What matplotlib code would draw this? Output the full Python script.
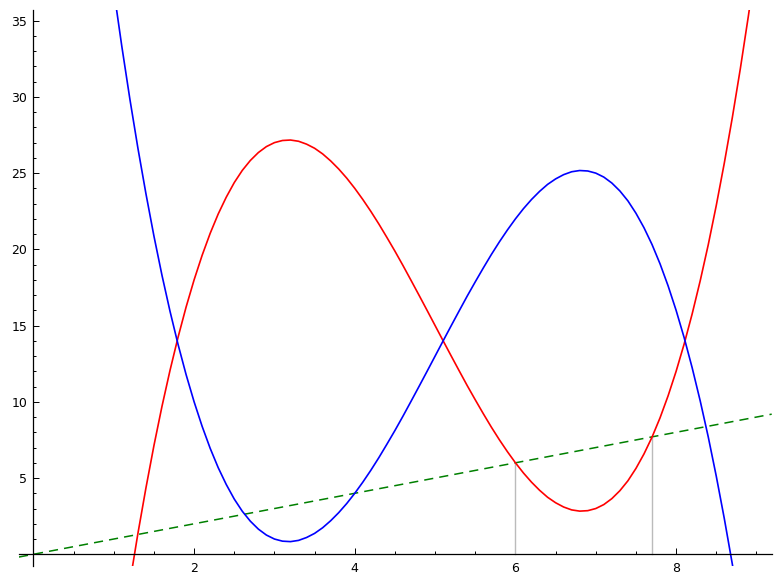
import matplotlib
matplotlib.use("Agg")
import matplotlib.pyplot as plt
from matplotlib.ticker import MultipleLocator

# sample points (x step 0.1)
x_vals = [1.0, 1.1, 1.2, 1.3, 1.4, 1.5, 1.6, 1.7, 1.8, 1.9,
          2.0, 2.1, 2.2, 2.3, 2.4, 2.5, 2.6, 2.7, 2.8, 2.9,
          3.0, 3.1, 3.2, 3.3, 3.4, 3.5, 3.6, 3.7, 3.8, 3.9,
          4.0, 4.1, 4.2, 4.3, 4.4, 4.5, 4.6, 4.7, 4.8, 4.9,
          5.0, 5.1, 5.2, 5.3, 5.4, 5.5, 5.6, 5.7, 5.8, 5.9,
          6.0, 6.1, 6.2, 6.3, 6.4, 6.5, 6.6, 6.7, 6.8, 6.9,
          7.0, 7.1, 7.2, 7.3, 7.4, 7.5, 7.6, 7.7, 7.8, 7.9,
          8.0, 8.1, 8.2, 8.3, 8.4, 8.5, 8.6, 8.7, 8.8, 8.9, 9.0]
red_vals = [-9.00, -5.32, -1.87, 1.35, 4.34, 7.13, 9.70, 12.06, 14.23, 16.21,
            18.00, 19.61, 21.05, 22.32, 23.42, 24.38, 25.18, 25.83, 26.35, 26.74,
            27.00, 27.14, 27.17, 27.09, 26.90, 26.63, 26.26, 25.80, 25.27, 24.67,
            24.00, 23.27, 22.49, 21.66, 20.78, 19.88, 18.94, 17.97, 16.99, 16.00,
            15.00, 14.00, 13.01, 12.03, 11.06, 10.13, 9.22, 8.34, 7.51, 6.73,
            6.00, 5.33, 4.73, 4.20, 3.74, 3.38, 3.10, 2.91, 2.83, 2.86,
            3.00, 3.26, 3.65, 4.17, 4.82, 5.63, 6.58, 7.68, 8.95, 10.39,
            12.00, 13.79, 15.77, 17.94, 20.30, 22.88, 25.66, 28.65, 31.87, 35.32, 39.00]
blue_vals = [37.00, 33.32, 29.87, 26.65, 23.66, 20.87, 18.30, 15.94, 13.77, 11.79,
             10.00, 8.39, 6.95, 5.68, 4.58, 3.62, 2.82, 2.17, 1.65, 1.26,
             1.00, 0.86, 0.83, 0.91, 1.10, 1.37, 1.74, 2.20, 2.73, 3.33,
             4.00, 4.73, 5.51, 6.34, 7.22, 8.12, 9.06, 10.03, 11.01, 12.00,
             13.00, 14.00, 14.99, 15.97, 16.94, 17.87, 18.78, 19.66, 20.49, 21.27,
             22.00, 22.67, 23.27, 23.80, 24.26, 24.62, 24.90, 25.09, 25.17, 25.14,
             25.00, 24.74, 24.35, 23.83, 23.18, 22.37, 21.42, 20.32, 19.05, 17.61,
             16.00, 14.21, 12.23, 10.06, 7.70, 5.12, 2.34, -0.65, -3.87, -7.32, -11.00]

# dashed line y = x and the two marked x positions
line_x = [-0.18, 9.19]
line_y = [-0.18, 9.19]
marks_x = [6.0, 7.70]

fig = plt.figure(figsize=(7.81, 5.84), dpi=100)
ax = fig.add_axes([0.0243, 0.0308, 0.9638, 0.9521])

ax.plot(line_x, line_y, color="green", linestyle=(0, (6, 4)), linewidth=1.1)
for mx in marks_x:
    ax.plot([mx, mx], [0, mx], color="#bbbbbb", linewidth=1.0)
ax.plot(x_vals, red_vals, color="red", linewidth=1.2)
ax.plot(x_vals, blue_vals, color="blue", linewidth=1.2)

ax.set_xlim(-0.18, 9.19)
ax.set_ylim(-0.77, 35.7)

# sage-like axes through the origin
ax.spines["left"].set_position(("data", 0))
ax.spines["bottom"].set_position(("data", 0))
ax.spines["top"].set_visible(False)
ax.spines["right"].set_visible(False)
ax.spines["left"].set_linewidth(0.9)
ax.spines["bottom"].set_linewidth(0.9)

ax.set_xticks([2, 4, 6, 8])
ax.set_yticks([5, 10, 15, 20, 25, 30, 35])
ax.xaxis.set_minor_locator(MultipleLocator(0.5))
ax.yaxis.set_minor_locator(MultipleLocator(1))
ax.tick_params(axis="both", which="major", direction="in", length=4.5,
               width=0.7, labelsize=9)
ax.tick_params(axis="both", which="minor", direction="in", length=2.2,
               width=0.7)
ax.tick_params(axis="x", which="major", pad=5.5)
ax.tick_params(axis="y", which="major", pad=4.5)

fig.savefig("out.png", dpi=100)
